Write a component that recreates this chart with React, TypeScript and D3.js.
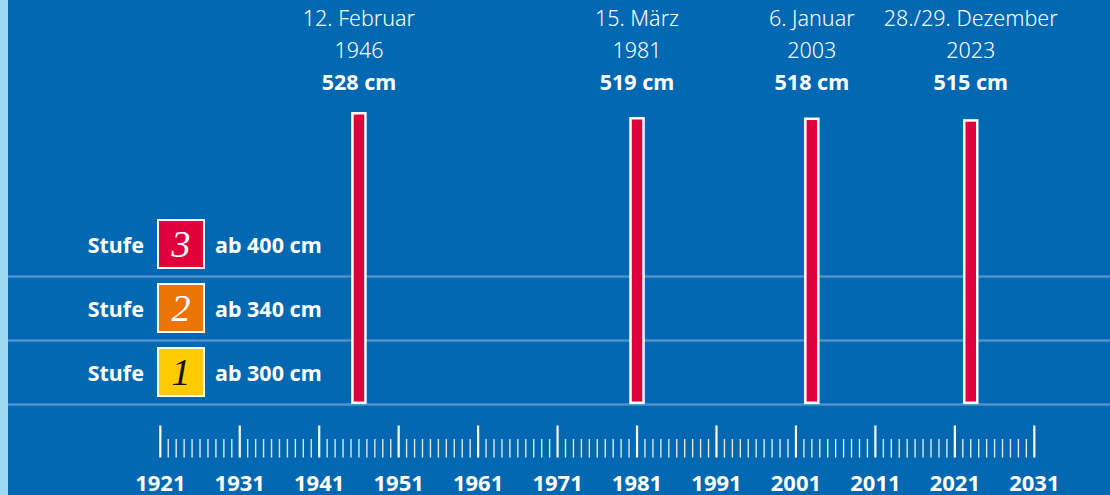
import React from "react";
import * as d3 from "d3";

// ---- data ----
const eventDates = ["12. Februar", "15. März", "6. Januar", "28./29. Dezember"];
const eventYears = [1946, 1981, 2003, 2023];
const eventLevels = [528, 519, 518, 515];

const stufeLevels = [3, 2, 1];
const stufeThresholds = [400, 340, 300];

const axisYears = [1921, 1931, 1941, 1951, 1961, 1971, 1981, 1991, 2001, 2011, 2021, 2031];

// ---- style ----
const W = 1110;
const H = 495;
const BG = "#0268b1";
const STRIP = "#9ed7f2";
const RED = "#e2003c";
const stufeFill: Record<number, string> = { 3: "#e2003c", 2: "#ec7404", 1: "#fecb00" };
const stufeNumColor: Record<number, string> = { 3: "#ffffff", 2: "#ffffff", 1: "#111111" };
const FONT = "'Noto Sans', 'Open Sans', sans-serif";

export default function App() {
  const x = d3.scaleLinear().domain([axisYears[0], axisYears[axisYears.length - 1]]).range([160.3, 1034.3]);
  const baseY = 404;
  const y = d3.scaleLinear().domain([0, d3.max(eventLevels) as number]).range([baseY, 112]);
  const rows = d3.scaleBand<number>().domain(stufeLevels).range([212.5, 404.5]).padding(0);
  const minorYears = d3.range(axisYears[0], axisYears[axisYears.length - 1] + 1);
  const majorSet = new Set(axisYears);
  const barW = 15.5;
  const border = 2.5;

  const events = eventYears.map((yr, i) => ({ yr, v: eventLevels[i], date: eventDates[i] }));

  return (
    <div style={{ position: "absolute", left: 0, top: 0 }}>
      <svg width={W} height={H} style={{ display: "block" }} fontFamily={FONT}>
        <rect x={0} y={0} width={W} height={H} fill={BG} />
        <rect x={0} y={0} width={8} height={H} fill={STRIP} />

        {/* separator lines */}
        {stufeLevels.map((s) => (
          <line
            key={"sep" + s}
            x1={8}
            x2={W}
            y1={(rows(s) as number) + rows.bandwidth()}
            y2={(rows(s) as number) + rows.bandwidth()}
            stroke="#5191cc"
            strokeWidth={2.5}
          />
        ))}

        {/* legend rows */}
        {stufeLevels.map((s, i) => {
          const cy = (rows(s) as number) + rows.bandwidth() / 2;
          const bw = 48;
          const bh = 50;
          const bx = 181 - bw / 2;
          const by = cy - bh / 2 - 0.5;
          return (
            <g key={"leg" + s}>
              <text x={144} y={cy + 8.5} textAnchor="end" fill="#fff" fontWeight={700} fontSize={21.5}>
                Stufe
              </text>
              <rect x={bx} y={by} width={bw} height={bh} fill="#fff" />
              <rect x={bx + 2} y={by + 2} width={bw - 4} height={bh - 4} fill={stufeFill[s]} />
              <text
                x={181}
                y={cy + 12}
                textAnchor="middle"
                fill={stufeNumColor[s]}
                fontFamily="'Liberation Serif', 'DejaVu Serif', serif"
                fontStyle="italic"
                fontSize={38}
              >
                {s}
              </text>
              <text x={215} y={cy + 8.5} fill="#fff" fontWeight={700} fontSize={21.5}>
                {`ab ${stufeThresholds[i]} cm`}
              </text>
            </g>
          );
        })}

        {/* bars */}
        {events.map((e) => {
          const cx = x(e.yr);
          const top = y(e.v);
          return (
            <g key={"bar" + e.yr}>
              <rect x={cx - barW / 2} y={top} width={barW} height={baseY - top} fill="#fff" />
              <rect
                x={cx - barW / 2 + border}
                y={top + border}
                width={barW - 2 * border}
                height={baseY - top - 2 * border}
                fill={RED}
              />
            </g>
          );
        })}

        {/* top labels */}
        {events.map((e) => {
          const cx = x(e.yr);
          return (
            <g key={"lab" + e.yr} fill="#fff" textAnchor="middle">
              <text x={cx} y={26} fontSize={21.5} fontWeight={300}>
                {e.date}
              </text>
              <text x={cx} y={58} fontSize={21.5} fontWeight={300}>
                {String(e.yr)}
              </text>
              <text x={cx} y={90} fontSize={21.5} fontWeight={700}>
                {`${e.v} cm`}
              </text>
            </g>
          );
        })}

        {/* axis ticks */}
        {minorYears.map((yr) => {
          const major = majorSet.has(yr);
          return (
            <line
              key={"t" + yr}
              x1={x(yr)}
              x2={x(yr)}
              y1={major ? 425.5 : 439}
              y2={457.5}
              stroke="#fff"
              strokeOpacity={major ? 1 : 0.85}
              strokeWidth={major ? 2.2 : 1.4}
            />
          );
        })}
        {axisYears.map((yr) => (
          <text
            key={"al" + yr}
            x={x(yr)}
            y={490.5}
            textAnchor="middle"
            fill="#fff"
            fontWeight={700}
            fontSize={22}
          >
            {String(yr)}
          </text>
        ))}
      </svg>
    </div>
  );
}
